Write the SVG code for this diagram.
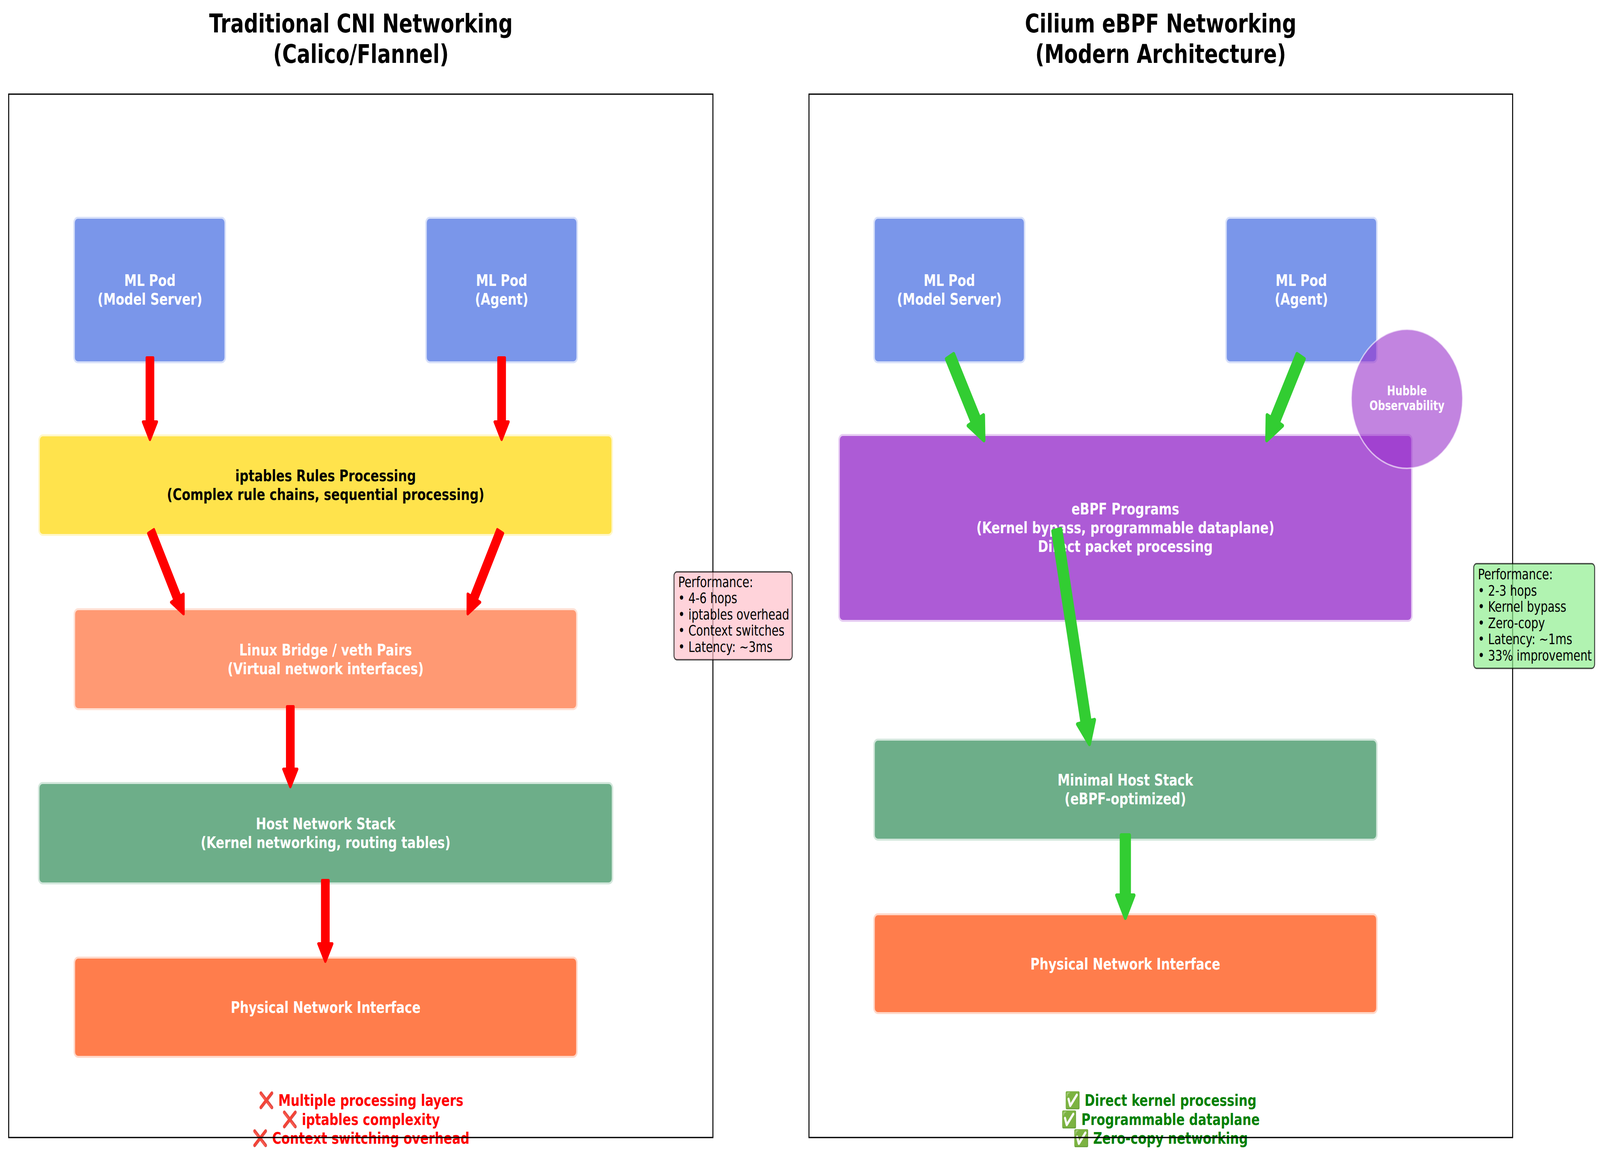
<svg xmlns="http://www.w3.org/2000/svg" width="5346" height="2967" viewBox="0 0 5346 2967" preserveAspectRatio="none">
<style>
svg{width:100vw;height:100vh}
text{font-family:"DejaVu Sans","Liberation Sans",sans-serif}
.title{font-size:66.7px;font-weight:bold;fill:#000;text-anchor:middle}
.panel{fill:none;stroke:#000;stroke-width:3.3}
.box{stroke:#fff;stroke-opacity:0.7;stroke-width:10}
.lbl{font-size:41.7px;font-weight:bold;fill:#fff;text-anchor:middle}
.dark{fill:#000}
.hub{font-size:33.3px;font-weight:bold;fill:#fff;text-anchor:middle}
.perf{stroke:#000;stroke-opacity:0.7;stroke-width:3.3;fill-opacity:0.7}
.ptxt{font-size:37.5px;fill:#000}
.red{fill:#f00;stroke:#f00;stroke-width:8;stroke-linejoin:round}
.grn{fill:#32cd32;stroke:#32cd32;stroke-width:10;stroke-linejoin:round}
.note{font-size:41.7px;font-weight:bold;text-anchor:middle}
</style>
<rect x="0" y="0" width="5346" height="2967" fill="#fff"/>

<g id="titles">
<text class="title" x="1206" y="83">Traditional CNI Networking</text>
<text class="title" x="1206" y="161">(Calico/Flannel)</text>
<text class="title" x="3878" y="83">Cilium eBPF Networking</text>
<text class="title" x="3878" y="161">(Modern Architecture)</text>
</g>

<g id="l-pod-ms">
<rect class="box" x="245" y="555" width="510" height="375" rx="15" fill="#7a96ea"/>
<text class="lbl" x="501" y="732">ML Pod</text>
<text class="lbl" x="501" y="780">(Model Server)</text>
</g>
<g id="l-pod-agent">
<rect class="box" x="1421" y="555" width="510" height="375" rx="15" fill="#7a96ea"/>
<text class="lbl" x="1676" y="732">ML Pod</text>
<text class="lbl" x="1676" y="780">(Agent)</text>
</g>
<g id="l-iptables">
<rect class="box" x="128" y="1112" width="1920" height="260" rx="15" fill="#ffe34c"/>
<text class="lbl dark" x="1088" y="1232">iptables Rules Processing</text>
<text class="lbl dark" x="1088" y="1280">(Complex rule chains, sequential processing)</text>
</g>
<g id="l-bridge">
<rect class="box" x="246" y="1557" width="1684" height="261" rx="15" fill="#ff9973"/>
<text class="lbl" x="1088" y="1678">Linux Bridge / veth Pairs</text>
<text class="lbl" x="1088" y="1726">(Virtual network interfaces)</text>
</g>
<g id="l-host">
<rect class="box" x="127" y="2002" width="1922" height="262" rx="15" fill="#6dae89"/>
<text class="lbl" x="1088" y="2123">Host Network Stack</text>
<text class="lbl" x="1088" y="2171">(Kernel networking, routing tables)</text>
</g>
<g id="l-phys">
<rect class="box" x="246" y="2449" width="1684" height="259" rx="15" fill="#ff7d4c"/>
<text class="lbl" x="1088" y="2593">Physical Network Interface</text>
</g>

<g id="r-pod-ms">
<rect class="box" x="2918" y="555" width="508" height="375" rx="15" fill="#7a96ea"/>
<text class="lbl" x="3172" y="732">ML Pod</text>
<text class="lbl" x="3172" y="780">(Model Server)</text>
</g>
<g id="r-pod-agent">
<rect class="box" x="4094" y="555" width="509" height="375" rx="15" fill="#7a96ea"/>
<text class="lbl" x="4348" y="732">ML Pod</text>
<text class="lbl" x="4348" y="780">(Agent)</text>
</g>
<g id="r-ebpf">
<rect class="box" x="2801" y="1111" width="1919" height="481" rx="15" fill="#ad5bd6"/>
<text class="lbl" x="3760" y="1317">eBPF Programs</text>
<text class="lbl" x="3760" y="1365">(Kernel bypass, programmable dataplane)</text>
<text class="lbl" x="3760" y="1413">Direct packet processing</text>
</g>
<g id="r-hubble">
<ellipse cx="4701" cy="1021" rx="186" ry="178" fill="#9932cc" fill-opacity="0.6" stroke="#fff" stroke-opacity="0.6" stroke-width="4"/>
<text class="hub" x="4701" y="1012">Hubble</text>
<text class="hub" x="4701" y="1050">Observability</text>
</g>
<g id="r-minimal">
<rect class="box" x="2918" y="1891" width="1685" height="261" rx="15" fill="#6dae89"/>
<text class="lbl" x="3760" y="2011">Minimal Host Stack</text>
<text class="lbl" x="3760" y="2059">(eBPF-optimized)</text>
</g>
<g id="r-phys">
<rect class="box" x="2918" y="2338" width="1685" height="258" rx="15" fill="#ff7d4c"/>
<text class="lbl" x="3760" y="2482">Physical Network Interface</text>
</g>

<g id="connectors">
<polygon class="red" transform="translate(501 912) rotate(90)" points="4,-10.5 168,-10.5 168,-23 213,0 168,23 168,10.5 4,10.5"/>
<polygon class="red" transform="translate(1676 912) rotate(90)" points="4,-10.5 168,-10.5 168,-23 213,0 168,23 168,10.5 4,10.5"/>
<polygon class="red" transform="translate(503 1357) rotate(62.81)" points="4,-10.5 196,-10.5 196,-23 241,0 196,23 196,10.5 4,10.5"/>
<polygon class="red" transform="translate(1673 1357) rotate(117.19)" points="4,-10.5 196,-10.5 196,-23 241,0 196,23 196,10.5 4,10.5"/>
<polygon class="red" transform="translate(970 1805) rotate(90)" points="4,-10.5 164,-10.5 164,-23 209,0 164,23 164,10.5 4,10.5"/>
<polygon class="red" transform="translate(1087 2250) rotate(90)" points="4,-10.5 166,-10.5 166,-23 211,0 166,23 166,10.5 4,10.5"/>
<polygon class="grn" transform="translate(3172 908) rotate(62.22)" points="5,-13.75 190,-13.75 190,-29 248,0 190,29 190,13.75 5,13.75"/>
<polygon class="grn" transform="translate(4348 908) rotate(117.78)" points="5,-13.75 190,-13.75 190,-29 248,0 190,29 190,13.75 5,13.75"/>
<polygon class="grn" transform="translate(3530 1352) rotate(78.75)" points="5,-13.75 506,-13.75 506,-29 564,0 506,29 506,13.75 5,13.75"/>
<polygon class="grn" transform="translate(3760 2133) rotate(90)" points="5,-13.75 159,-13.75 159,-29 217,0 159,29 159,13.75 5,13.75"/>
</g>

<g id="l-notes">
<text class="note" x="1206" y="2831" fill="#f00">❌ Multiple processing layers</text>
<text class="note" x="1206" y="2880" fill="#f00">❌ iptables complexity</text>
<text class="note" x="1206" y="2928" fill="#f00">❌ Context switching overhead</text>
</g>
<g id="r-notes">
<text class="note" x="3878" y="2831" fill="#008000">✅ Direct kernel processing</text>
<text class="note" x="3878" y="2880" fill="#008000">✅ Programmable dataplane</text>
<text class="note" x="3878" y="2928" fill="#008000">✅ Zero-copy networking</text>
</g>

<g id="panels">
<rect class="panel" x="29" y="241" width="2353" height="2671"/>
<rect class="panel" x="2703" y="241" width="2351" height="2671"/>
</g>

<g id="l-perf">
<rect class="perf" x="2252" y="1464" width="395" height="225" rx="10" fill="#ffc0cb"/>
<text class="ptxt" x="2266" y="1503">Performance:</text>
<text class="ptxt" x="2266" y="1544.5">• 4-6 hops</text>
<text class="ptxt" x="2266" y="1586">• iptables overhead</text>
<text class="ptxt" x="2266" y="1627.5">• Context switches</text>
<text class="ptxt" x="2266" y="1669">• Latency: ~3ms</text>
</g>
<g id="r-perf">
<rect class="perf" x="4924" y="1443" width="404" height="268" rx="10" fill="#90ee90"/>
<text class="ptxt" x="4938" y="1483">Performance:</text>
<text class="ptxt" x="4938" y="1524.6">• 2-3 hops</text>
<text class="ptxt" x="4938" y="1566.2">• Kernel bypass</text>
<text class="ptxt" x="4938" y="1607.8">• Zero-copy</text>
<text class="ptxt" x="4938" y="1649.4">• Latency: ~1ms</text>
<text class="ptxt" x="4938" y="1691">• 33% improvement</text>
</g>
</svg>
